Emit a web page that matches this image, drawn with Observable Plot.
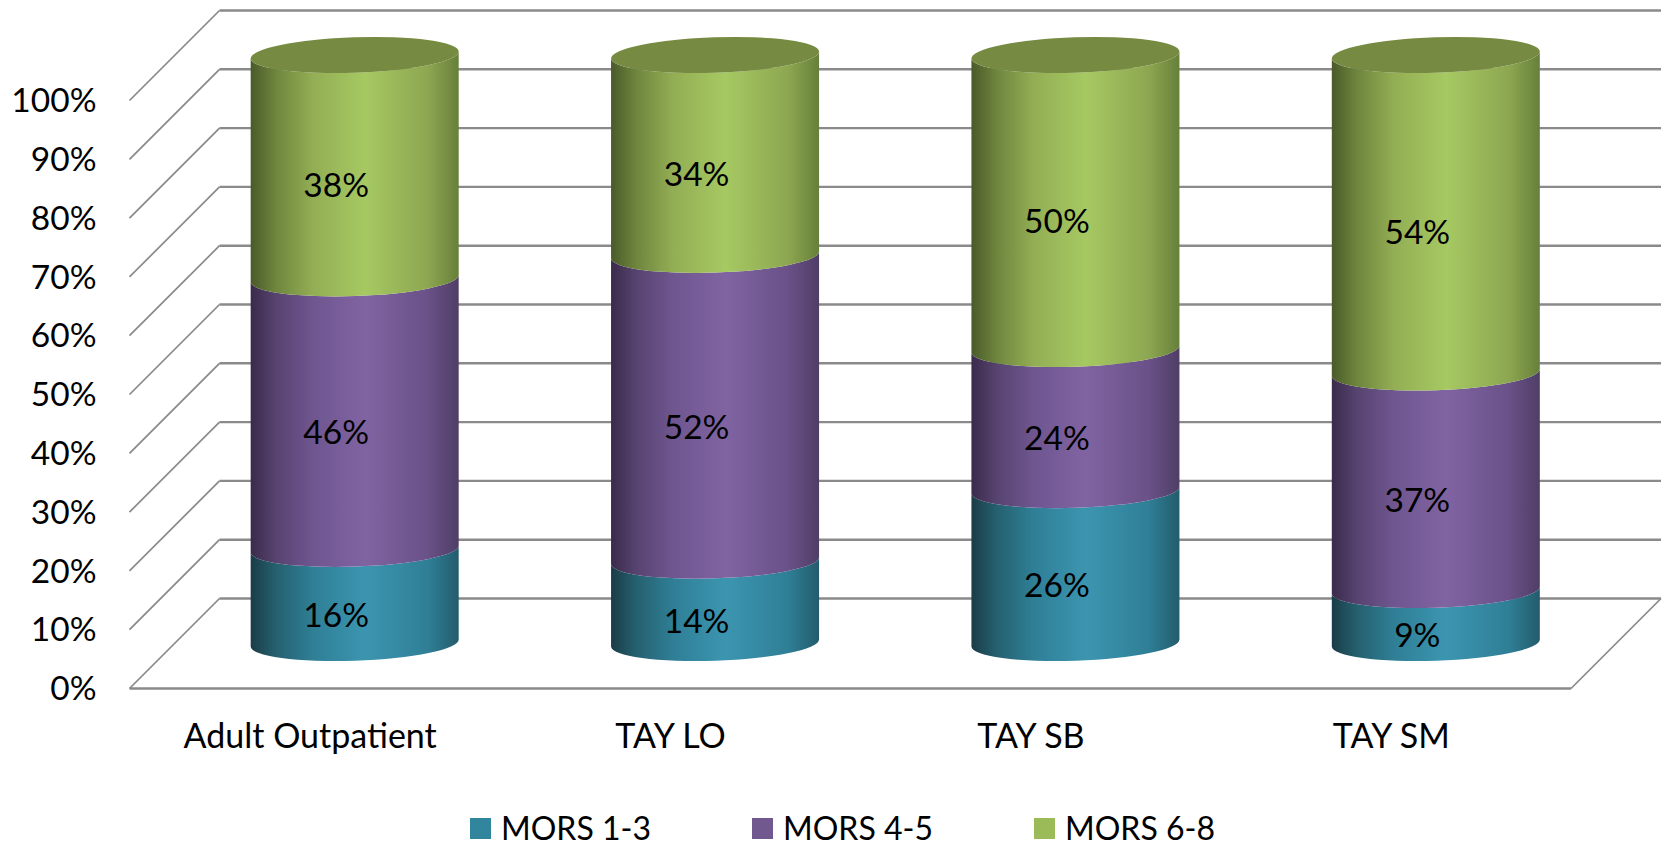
<!DOCTYPE html>
<html>
<head>
<meta charset="utf-8">
<script src="https://cdn.jsdelivr.net/npm/d3@7"></script>
<script src="https://cdn.jsdelivr.net/npm/@observablehq/plot@0.6"></script>
<style>
  html, body { margin: 0; padding: 0; background: #fff; overflow: hidden; }
  #chart svg { display: block; }
  #legend { display: flex; padding-left: 470px; height: 26px; align-items: center;
            font-family: Lato, sans-serif; font-size: 32px; color: #000; margin-top: 15px; }
  #legend .item { display: flex; align-items: center; width: 282px; height: 26px; }
  #legend .swatch { width: 21px; height: 21px; margin-right: 10px; }
  #legend .name { display: block; height: 26px; line-height: 26px; }
</style>
</head>
<body>
<div id="chart"></div>
<div id="legend"></div>
<script>
const categories = ["Adult Outpatient", "TAY LO", "TAY SB", "TAY SM"];
const seriesNames = ["MORS 1-3", "MORS 4-5", "MORS 6-8"];
const mors13 = [16, 14, 26, 9];
const mors45 = [46, 52, 24, 37];
const mors68 = [38, 34, 50, 54];
const yTicks = [0, 10, 20, 30, 40, 50, 60, 70, 80, 90, 100];
const swatchColors = ["#31859c", "#71588f", "#9bbb59"];
const capColor = "#778a41";
const gridColor = "#8a8a8a";
const gradients = [
  [[0, "#1a3c47"], [0.12, "#25606f"], [0.3, "#2f7f96"], [0.55, "#3c95b0"], [0.85, "#2f7f96"], [1, "#235c6c"]],
  [[0, "#3a2a4a"], [0.12, "#574370"], [0.3, "#6f5690"], [0.55, "#8064a2"], [0.85, "#6a5188"], [1, "#4f3e66"]],
  [[0, "#4a5a2a"], [0.12, "#6e853d"], [0.3, "#93ae54"], [0.55, "#a6c962"], [0.85, "#8da751"], [1, "#67803a"]]
];

const values = [mors13, mors45, mors68];
const rows = seriesNames.flatMap((series, s) =>
  categories.map((category, c) => ({ category, series, value: values[s][c] })));

// Depth of the 3D box, in pixels
const depth = 90;
const tilt = 3.5, ry = 17.7;

const svgNS = "http://www.w3.org/2000/svg";

// Turns the rules that Plot drew into the receding lines of the floor and side wall
function recede(side) {
  return function (index, scales, vals, dims, ctx, next) {
    const g = next(index, scales, vals, dims, ctx);
    g.querySelectorAll("line").forEach((l) => {
      const start = +l.getAttribute(side === "right" ? "x2" : "x1");
      const y = +l.getAttribute("y1");
      l.setAttribute("x1", start);
      l.setAttribute("x2", start + depth);
      l.setAttribute("y2", y - depth);
    });
    return g;
  };
}

// Turns the stacked bars that Plot drew into shaded cylinder segments
function cylinder(index, scales, vals, dims, ctx, next) {
  const g = next(index, scales, vals, dims, ctx);
  const defs = document.createElementNS(svgNS, "defs");
  gradients.forEach((stops, s) => {
    const lg = document.createElementNS(svgNS, "linearGradient");
    lg.setAttribute("id", "cyl" + s);
    stops.forEach(([o, c]) => {
      const st = document.createElementNS(svgNS, "stop");
      st.setAttribute("offset", o);
      st.setAttribute("stop-color", c);
      lg.appendChild(st);
    });
    defs.appendChild(lg);
  });
  g.insertBefore(defs, g.firstChild);
  const rects = [...g.querySelectorAll("rect")];
  rects.forEach((r, k) => {
    const s = seriesNames.indexOf(rows[index[k]].series);
    const x0 = +r.getAttribute("x"), w = +r.getAttribute("width");
    const top = +r.getAttribute("y"), bot = top + +r.getAttribute("height");
    const x1 = x0 + w, rx = Math.hypot(w / 2, tilt);
    const rot = -Math.atan2(tilt, w / 2) * 180 / Math.PI;
    const p = document.createElementNS(svgNS, "path");
    p.setAttribute("d",
      `M${x0},${top + tilt}A${rx},${ry} ${rot} 0 0 ${x1},${top - tilt}` +
      `L${x1},${bot - tilt}A${rx},${ry} ${rot} 0 1 ${x0},${bot + tilt}Z`);
    p.setAttribute("fill", `url(#cyl${s})`);
    r.replaceWith(p);
    if (s === seriesNames.length - 1) {
      const cap = document.createElementNS(svgNS, "path");
      cap.setAttribute("d",
        `M${x0},${top + tilt}A${rx},${ry} ${rot} 0 0 ${x1},${top - tilt}` +
        `A${rx},${ry} ${rot} 0 0 ${x0},${top + tilt}Z`);
      cap.setAttribute("fill", capColor);
      p.after(cap);
    }
  });
  return g;
}

const fontFamily = "Lato, sans-serif";
const fontSize = 33.5;

const chart = Plot.plot({
  width: 1665,
  height: 800,
  marginLeft: 129.5,
  marginRight: 94,
  marginTop: 100,
  marginBottom: 112,
  style: { fontFamily, background: "#fff", color: "#000" },
  x: { domain: categories, paddingInner: 0.4228, paddingOuter: 0.2114, round: false, label: null },
  y: { domain: [0, 100], label: null },
  color: { domain: seriesNames, range: swatchColors },
  marks: [
    Plot.ruleY(yTicks, { y: (d) => d, dx: depth, dy: -depth, stroke: gridColor, strokeWidth: 2.4 }),
    Plot.ruleY(yTicks, { y: (d) => d, stroke: gridColor, strokeWidth: 1.7, render: recede("left") }),
    Plot.ruleY([0], { y: (d) => d, stroke: gridColor, strokeWidth: 1.7, render: recede("right") }),
    Plot.ruleY([0], { y: (d) => d, stroke: gridColor, strokeWidth: 2.4 }),
    Plot.barY(rows, Plot.stackY({
      x: "category", y: "value", fill: "series", z: "series",
      dx: depth / 2, dy: -depth / 2, render: cylinder
    })),
    Plot.text(rows, Plot.stackY({
      x: "category", y: "value", z: "series",
      text: (d) => d.value + "%",
      dx: depth * 0.3 - 1, dy: -depth * 0.3 + 1.5,
      fontSize, fill: "#000"
    })),
    Plot.axisY({
      ticks: yTicks, tickSize: 0, tickPadding: 33.5, tickFormat: (d) => d + "%",
      fontSize, label: null, fill: "#000", dy: 1
    }),
    Plot.axisX({
      tickSize: 0, tickPadding: 34, fontSize: 34, label: null, fill: "#000", dy: 1
    })
  ]
});
document.getElementById("chart").appendChild(chart);

const legend = document.getElementById("legend");
seriesNames.forEach((name, s) => {
  const item = document.createElement("div");
  item.className = "item";
  const sw = document.createElement("div");
  sw.className = "swatch";
  sw.style.background = swatchColors[s];
  const label = document.createElement("span");
  label.className = "name";
  label.textContent = name;
  item.append(sw, label);
  legend.appendChild(item);
});
</script>
</body>
</html>
